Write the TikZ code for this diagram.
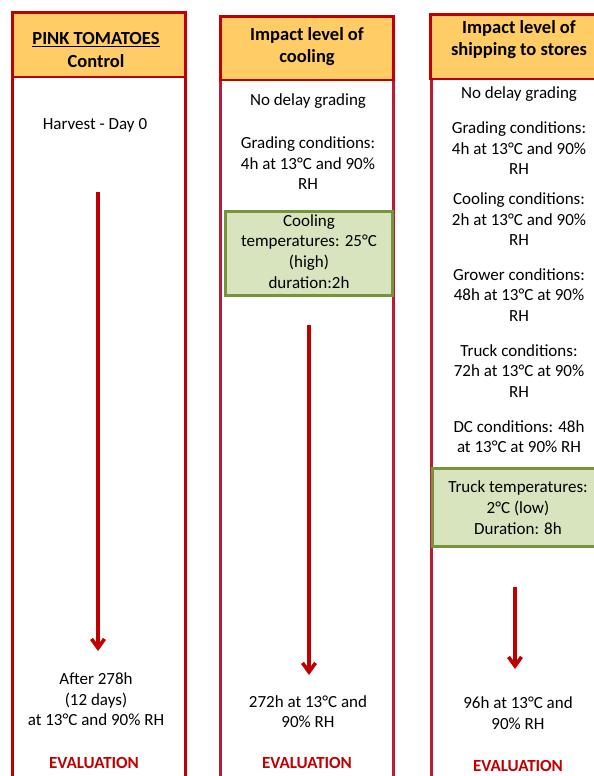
\documentclass[tikz,border=0pt]{standalone}
\usepackage{fontspec}
\setmainfont{Carlito}
\usetikzlibrary{arrows.meta}
\definecolor{hdrred}{HTML}{C00000}
\definecolor{colred}{HTML}{B91C34}
\definecolor{hdrfill}{HTML}{FFCC66}
\definecolor{boxfill}{HTML}{D7E4BD}
\definecolor{boxline}{HTML}{77933C}
\begin{document}
\begin{tikzpicture}[x=1pt,y=-1pt,
  hdrbox/.style={draw=hdrred, fill=hdrfill, line width=2.6pt, inner sep=0pt, outer sep=0pt},
  hdrtext/.style={font=\fontsize{18.5}{22.5}\selectfont\bfseries, align=center, inner sep=0pt},
  body/.style={font=\fontsize{17}{20.5}\selectfont, align=center, inner sep=0pt},
  boxtext/.style={font=\fontsize{17}{20.8}\selectfont, align=center, inner sep=0pt},
  evaltext/.style={font=\fontsize{17}{20}\selectfont\bfseries, text=hdrred, inner sep=0pt},
  greenbox/.style={draw=boxline, fill=boxfill, line width=2.6pt, inner sep=0pt, outer sep=0pt},
  col1line/.style={draw=hdrred, line width=2.4pt},
  colline/.style={draw=colred, line width=2.4pt},
  flow/.style={draw=hdrred, line width=3.6pt, -{Straight Barb[length=9pt,width=13pt]}}
]
\useasboundingbox (0,0) rectangle (594,776);
\coordinate (bot) at (0,800);

% header boxes (positions only)
\node[hdrbox, minimum width=173pt, minimum height=64.5pt] (h1) at (99,44.75) {};
\node[hdrbox, minimum width=173pt, minimum height=63.5pt] (h2) at (307,48.25) {};
\node[hdrbox, minimum width=190pt, minimum height=64.5pt] (h3) at (525.5,46.75) {};

% column side lines
\draw[col1line] (h1.south west) -- (h1.south west |- bot);
\draw[col1line] (h1.south east) -- (h1.south east |- bot);
\draw[colline] (h2.south west) -- (h2.south west |- bot);
\draw[colline] (h2.south east) -- (h2.south east |- bot);
\draw[colline] ([xshift=1pt]h3.south west) -- ([xshift=1pt]h3.south west |- bot);

% redraw headers over lines
\node[hdrbox, minimum width=173pt, minimum height=64.5pt] at (h1) {};
\node[hdrbox, minimum width=173pt, minimum height=63.5pt] at (h2) {};
\node[hdrbox, minimum width=190pt, minimum height=64.5pt] at (h3) {};

% header texts
\node[hdrtext] (t1) at (96,50) {\underline{PINK TOMATOES}\\Control};
\node[hdrtext] (t2) at (307,46.5) {Impact level of\\cooling};
\node[hdrtext] (t3) at (519,39.5) {Impact level of\\shipping to stores};

% column 1
\node[body] (c1a) at (95,125) {Harvest - Day 0};
\node[body] (c1b) at (96,699.5) {After 278h\\(12 days)\\at 13°C and 90\% RH};
\node[evaltext] (e1) at (94,763) {EVALUATION};
\coordinate (a1s) at (98,192);
\coordinate (a1e) at (98,651);
\draw[flow] (a1s) -- (a1e);

% column 2
\node[body] (c2a) at (308,101) {No delay grading};
\node[body] (c2b) at (308,163.5) {Grading conditions:\\4h at 13°C and 90\%\\RH};
\node[greenbox, minimum width=167pt, minimum height=84pt] (g2) at (309,253.5) {};
\node[boxtext] (g2t) at (309,251.5) {Cooling\\temperatures: 25°C\\(high)\\duration:2h};
\coordinate (a2s) at (309,325);
\coordinate (a2e) at (309,675);
\draw[flow] (a2s) -- (a2e);
\node[body] (c2c) at (308,711.5) {272h at 13°C and\\90\% RH};
\node[evaltext] (e2) at (307,763) {EVALUATION};

% column 3
\node[body] (c3a) at (519,94) {No delay grading};
\node[body] (c3b) at (519,148.5) {Grading conditions:\\4h at 13°C and 90\%\\RH};
\node[body] (c3c) at (519,219.5) {Cooling conditions:\\2h at 13°C and 90\%\\RH};
\node[body] (c3d) at (519,295) {Grower conditions:\\48h at 13°C at 90\%\\RH};
\node[body] (c3e) at (519,371) {Truck conditions:\\72h at 13°C at 90\%\\RH};
\node[body] (c3f) at (519,436.5) {DC conditions: 48h\\at 13°C at 90\% RH};
\node[greenbox, minimum width=180pt, minimum height=78pt] (g3) at (522.5,507.5) {};
\node[boxtext] (g3t) at (518,507.5) {Truck temperatures:\\2°C (low)\\Duration: 8h};
\coordinate (a3s) at (515,587);
\coordinate (a3e) at (515,669);
\draw[flow] (a3s) -- (a3e);
\node[body] (c3g) at (518,713) {96h at 13°C and\\90\% RH};
\node[evaltext] (e3) at (518,766) {EVALUATION};
\end{tikzpicture}
\end{document}
